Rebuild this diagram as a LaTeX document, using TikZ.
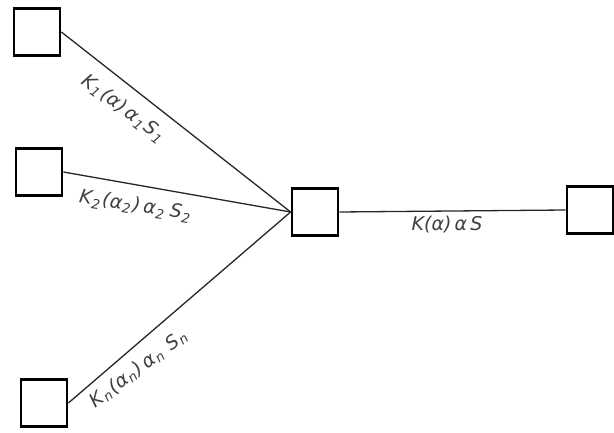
\documentclass[tikz,border=0pt]{standalone}
\usepackage{fontspec}
\setmainfont{DejaVu Sans}
\newcommand{\lsub}[1]{\kern0.5pt\textsubscript{#1}\kern1.5pt}
\begin{document}
\begin{tikzpicture}[x=1pt,y=-1pt,
  blk/.style={draw=black,line width=2.8pt,minimum width=46pt,minimum height=47pt,inner sep=0pt},
  conn/.style={draw=black!85,line width=1.3pt},
  lab/.style={text=black!75,font=\fontsize{19}{21}\selectfont\itshape,inner sep=1pt}]
\useasboundingbox (0,0) rectangle (614,433);
\node[blk] (b1) at (37,32) {};
\node[blk] (b2) at (39,172) {};
\node[blk] (bn) at (44,403) {};
\node[blk] (c) at (315,212) {};
\node[blk] (r) at (590,210) {};
\draw[conn] (b1.east) -- (c.west);
\draw[conn] (b2.east) -- (c.west);
\draw[conn] (bn.east) -- (c.west);
\draw[conn] (c.east) -- (r.west);
\node[lab,rotate=-37] (l1) at (124,109) {K\lsub{1}(α)\,α\lsub{1}S\lsub{1}};
\node[lab,rotate=-9] (l2) at (136,206) {K\lsub{2}(α\lsub{2})\,α\lsub{2}\,S\lsub{2}};
\node[lab,rotate=37] (ln) at (139,368) {K\lsub{n}(α\lsub{n})\,α\lsub{n}\,\,S\lsub{n}};
\node[lab] (l) at (447,225) {K(α)\,α\,S};
\end{tikzpicture}
\end{document}
